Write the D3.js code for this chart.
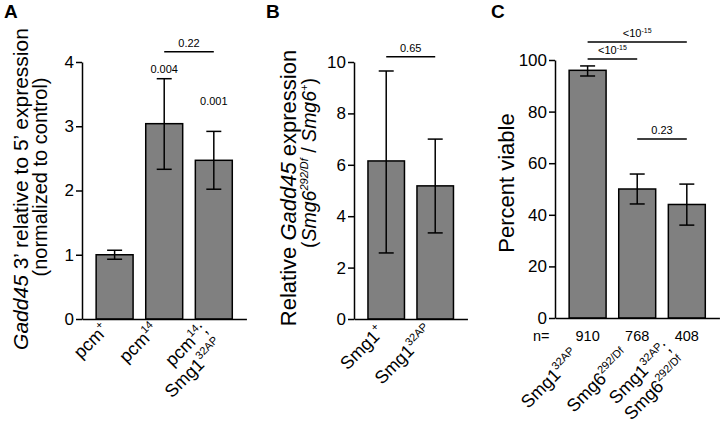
<!DOCTYPE html>
<html>
<head>
<meta charset="utf-8">
<script src="https://cdn.jsdelivr.net/npm/d3@7"></script>
<style>
  html, body { margin: 0; padding: 0; background: #fff; }
  svg text { font-family: "Liberation Sans", Arial, sans-serif; fill: #000; }
</style>
</head>
<body>
<svg id="chart" width="723" height="435"></svg>
<script>
// ---------- DATA ----------
// Panel A
const aCategories = ["pcm+", "pcm14", "pcm14;Smg132AP"];
const aLabels = [
  [[["pcm", ""], ["+", "sup"]]],
  [[["pcm", ""], ["14", "sup"]]],
  [[["pcm", ""], ["14", "sup"], [";", ""]], [["Smg1", ""], ["32AP", "sup"]]]
];
const aValues = [1.0, 3.04, 2.47];
const aErrLow = [0.93, 2.33, 2.02];
const aErrHigh = [1.07, 3.74, 2.92];
const aTicks = [0, 1, 2, 3, 4];
const aPLabels = [{ i: 1, text: "0.004", v: 3.83 }, { i: 2, text: "0.001", v: 3.33 }];
const aBrackets = [{ from: 1, to: 2, v: 4.16, text: "0.22", exp: "" }];

// Panel B
const bCategories = ["Smg1+", "Smg132AP"];
const bLabels = [
  [[["Smg1", ""], ["+", "sup"]]],
  [[["Smg1", ""], ["32AP", "sup"]]]
];
const bValues = [6.15, 5.18];
const bErrLow = [2.57, 3.35];
const bErrHigh = [9.65, 7.0];
const bTicks = [0, 2, 4, 6, 8, 10];
const bBrackets = [{ from: 0, to: 1, v: 10.2, text: "0.65", exp: "" }];

// Panel C
const cCategories = ["Smg132AP", "Smg6292/Df", "Smg132AP;Smg6292/Df"];
const cLabels = [
  [[["Smg1", ""], ["32AP", "sup"]]],
  [[["Smg6", ""], ["292/Df", "sup"]]],
  [[["Smg1", ""], ["32AP", "sup"], [";", ""]], [["Smg6", ""], ["292/Df", "sup"]]]
];
const cValues = [96, 50, 44];
const cErrLow = [93.8, 44.2, 36.0];
const cErrHigh = [97.7, 55.8, 51.9];
const cN = [910, 768, 408];
const cTicks = [0, 20, 40, 60, 80, 100];
const cBrackets = [
  { from: 0, to: 2, v: 107, text: "<10", exp: "-15" },
  { from: 0, to: 1, v: 100.4, text: "<10", exp: "-15" },
  { from: 1, to: 2, v: 69.4, text: "0.23", exp: "" }
];

// ---------- DRAW ----------
const svg = d3.select("#chart");
const BAR = "#808080";
const SW = 1.5;
const SUP_RAISE = 8;

function addRich(textSel, parts, supSize) {
  parts.forEach(([t, kind], k) => {
    const ts = textSel.append("tspan").text(t);
    if (kind === "sup") {
      ts.attr("font-size", supSize).attr("dy", -SUP_RAISE);
    } else if (k > 0 && parts[k - 1][1] === "sup") {
      ts.attr("dy", SUP_RAISE);
    }
  });
}

function panel(opts) {
  const g = svg.append("g");
  const n = opts.values.length;
  const x = d3.scaleBand().domain(d3.range(n))
    .range([opts.x0, opts.x0 + opts.step * (n - 0.255 + 2 * 0.285)])
    .paddingInner(0.255).paddingOuter(0.285);
  const y = d3.scaleLinear().domain([0, opts.max]).range([opts.y0, opts.y1]);

  // bars
  g.selectAll("rect.bar").data(opts.values).join("rect").attr("class", "bar")
    .attr("x", (d, i) => x(i)).attr("width", x.bandwidth())
    .attr("y", d => y(d)).attr("height", d => y(0) - y(d))
    .attr("fill", BAR).attr("stroke", "#000").attr("stroke-width", SW);

  // error bars
  const cap = 7.5;
  opts.values.forEach((d, i) => {
    const cx = x(i) + x.bandwidth() / 2;
    const lo = y(opts.low[i]), hi = y(opts.high[i]);
    g.append("line").attr("x1", cx).attr("x2", cx).attr("y1", lo).attr("y2", hi)
      .attr("stroke", "#000").attr("stroke-width", SW);
    [lo, hi].forEach(yy => g.append("line").attr("x1", cx - cap).attr("x2", cx + cap)
      .attr("y1", yy).attr("y2", yy).attr("stroke", "#000").attr("stroke-width", SW));
  });

  // y axis
  const ya = g.append("g").attr("transform", `translate(${opts.x0},0)`)
    .call(d3.axisLeft(y).tickValues(opts.ticks).tickFormat(d3.format("d"))
      .tickSize(6).tickSizeOuter(0).tickPadding(2));
  ya.selectAll("path, line").attr("stroke", "#000").attr("stroke-width", SW);
  ya.selectAll("text").attr("font-size", 17)
    .attr("font-family", "Liberation Sans, Arial, sans-serif").attr("fill", "#000");

  // x axis
  const xa = g.append("g").attr("transform", `translate(0,${y(0)})`)
    .call(d3.axisBottom(x).tickSize(0).tickSizeOuter(0).tickFormat(""));
  xa.selectAll("path").attr("stroke", "#000").attr("stroke-width", SW);

  // category labels (rotated -45deg, end-anchored)
  opts.labels.forEach((lines, i) => {
    const cx = x(i) + x.bandwidth() / 2;
    const lg = g.append("g")
      .attr("transform", `translate(${cx + opts.labDx},${opts.labY}) rotate(-45)`);
    lines.forEach((parts, li) => {
      const off = lines.length > 1 ? (li - opts.multiShift) * 22 : 0;
      const t = lg.append("text").attr("text-anchor", "end")
        .attr("font-size", 18).attr("x", 0).attr("y", off);
      addRich(t, parts, 11);
    });
  });

  // p-value labels above bars
  (opts.pLabels || []).forEach(p => {
    g.append("text").attr("x", x(p.i) + x.bandwidth() / 2).attr("y", y(p.v))
      .attr("text-anchor", "middle").attr("font-size", 11).text(p.text);
  });

  // brackets
  (opts.brackets || []).forEach(b => {
    const x1 = x(b.from) + x.bandwidth() / 2, x2 = x(b.to) + x.bandwidth() / 2;
    const yy = y(b.v);
    g.append("line").attr("x1", x1).attr("x2", x2).attr("y1", yy).attr("y2", yy)
      .attr("stroke", "#000").attr("stroke-width", SW);
    const t = g.append("text").attr("x", (x1 + x2) / 2).attr("y", yy - 5)
      .attr("text-anchor", "middle").attr("font-size", 11);
    t.append("tspan").text(b.text);
    if (b.exp) t.append("tspan").attr("font-size", 7).attr("dy", -4).text(b.exp);
  });

  // panel letter
  g.append("text").attr("x", opts.letterX).attr("y", 18).attr("font-size", 19)
    .attr("font-weight", "bold").text(opts.letter);

  return { g, x, y };
}

// Panel A
const A = panel({ values: aValues, low: aErrLow, high: aErrHigh, ticks: aTicks, max: 4,
  x0: 82, step: 49.6, y0: 319, y1: 62, labels: aLabels, labDx: -5, labY: 331, multiShift: 0,
  pLabels: aPLabels, brackets: aBrackets, letter: "A", letterX: 4 });
{
  const t1 = svg.append("text").attr("transform", "translate(28,189) rotate(-90)")
    .attr("text-anchor", "middle").attr("font-size", 21);
  t1.append("tspan").attr("font-style", "italic").text("Gadd45");
  t1.append("tspan").text(" 3’ relative to 5’ expression");
  svg.append("text").attr("transform", "translate(47,177) rotate(-90)")
    .attr("text-anchor", "middle").attr("font-size", 20).text("(normalized to control)");
}

// Panel B
const B = panel({ values: bValues, low: bErrLow, high: bErrHigh, ticks: bTicks, max: 10,
  x0: 354, step: 49, y0: 319, y1: 62, labels: bLabels, labDx: -1, labY: 333, multiShift: 0,
  brackets: bBrackets, letter: "B", letterX: 266 });
{
  const t1 = svg.append("text").attr("transform", "translate(296,188) rotate(-90)")
    .attr("text-anchor", "middle").attr("font-size", 22);
  t1.append("tspan").text("Relative ");
  t1.append("tspan").attr("font-style", "italic").text("Gadd45");
  t1.append("tspan").text(" expression");
  const t2 = svg.append("text").attr("transform", "translate(316,163) rotate(-90)")
    .attr("text-anchor", "middle").attr("font-size", 19.5);
  t2.append("tspan").text("(");
  t2.append("tspan").attr("font-style", "italic").text("Smg6");
  t2.append("tspan").attr("font-style", "italic").attr("font-size", 11).attr("dy", -8).text("292/Df");
  t2.append("tspan").attr("dy", 8).text(" / ");
  t2.append("tspan").attr("font-style", "italic").text("Smg6");
  t2.append("tspan").attr("font-style", "italic").attr("font-size", 11).attr("dy", -8).text("+");
  t2.append("tspan").attr("dy", 8).text(")");
}

// Panel C
const C = panel({ values: cValues, low: cErrLow, high: cErrHigh, ticks: cTicks, max: 100,
  x0: 555, step: 49.6, y0: 318, y1: 60, labels: cLabels, labDx: -7, labY: 357, multiShift: 0.5,
  brackets: cBrackets, letter: "C", letterX: 491 });
{
  svg.append("text").attr("transform", "translate(514,183) rotate(-90)")
    .attr("text-anchor", "middle").attr("font-size", 22).text("Percent viable");
  svg.append("text").attr("x", 533).attr("y", 341).attr("font-size", 14.5).text("n=");
  C.g.selectAll("text.n").data(cN).join("text").attr("class", "n")
    .attr("x", (d, i) => C.x(i) + C.x.bandwidth() / 2).attr("y", 341)
    .attr("text-anchor", "middle").attr("font-size", 14.5).text(d => d);
}
</script>
</body>
</html>
